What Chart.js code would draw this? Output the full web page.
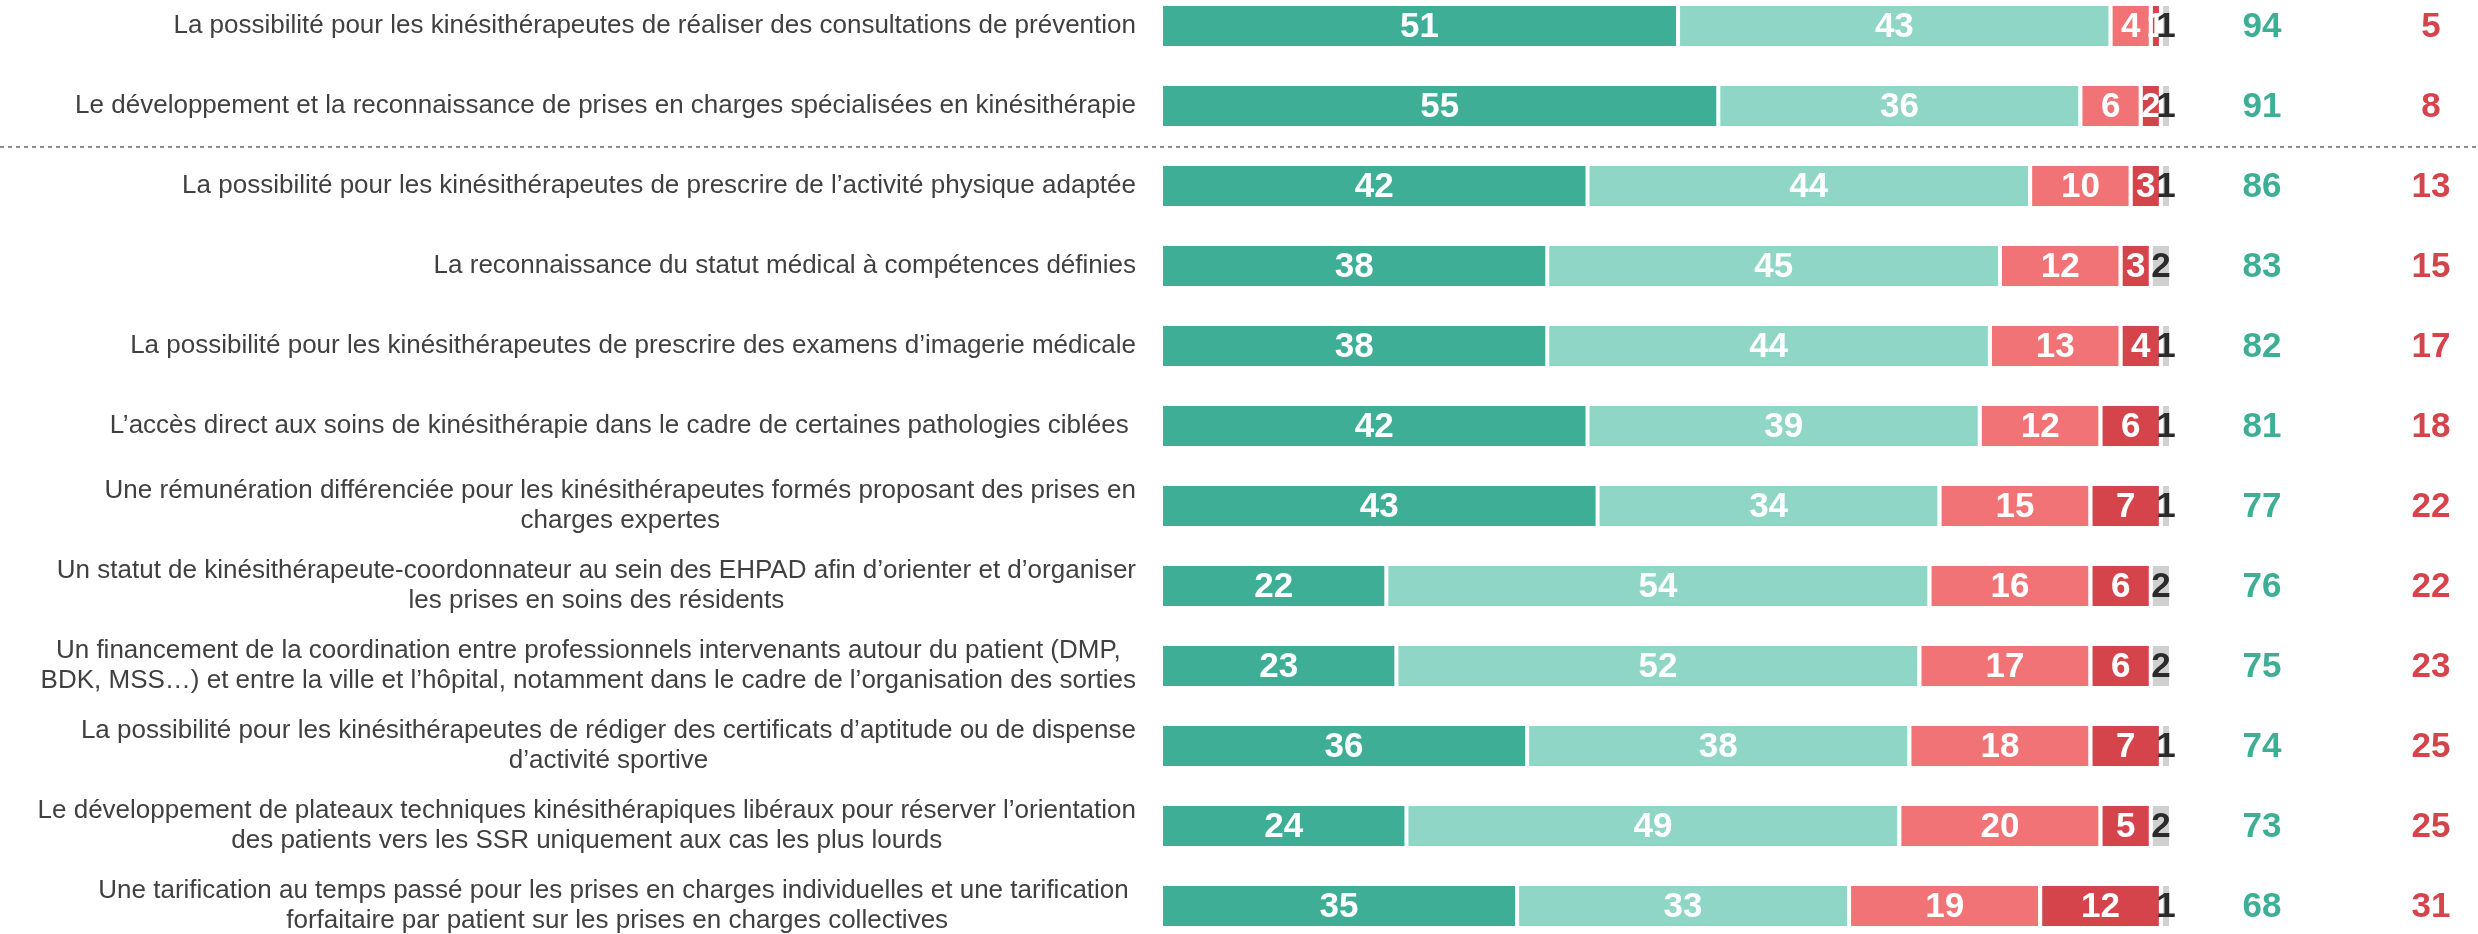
<!DOCTYPE html>
<html lang="fr">
<head>
<meta charset="utf-8">
<title>Mesures kinésithérapie</title>
<script src="https://cdn.jsdelivr.net/npm/chart.js@4/dist/chart.umd.min.js"></script>
<style>
    html, body { margin: 0; padding: 0; background: #ffffff; overflow: hidden; }
    #frame { position: relative; width: 2478px; height: 934px; overflow: hidden; }
    /* zone du graphique un peu plus haute que la page : 12 lignes de 80px, 1re ligne centrée à y=26 */
    #wrap { position: absolute; left: 0; top: -14px; width: 2478px; height: 960px; }
</style>
</head>
<body>
<div id="frame"><div id="wrap"><canvas id="mesuresChart"></canvas></div></div>
<script>
// Libellés des mesures (lignes multiples = tableau)
const categories = [
    'La possibilité pour les kinésithérapeutes de réaliser des consultations de prévention',
    'Le développement et la reconnaissance de prises en charges spécialisées en kinésithérapie',
    'La possibilité pour les kinésithérapeutes de prescrire de l’activité physique adaptée',
    'La reconnaissance du statut médical à compétences définies',
    'La possibilité pour les kinésithérapeutes de prescrire des examens d’imagerie médicale',
    'L’accès direct aux soins de kinésithérapie dans le cadre de certaines pathologies ciblées ',
    ['Une rémunération différenciée pour les kinésithérapeutes formés proposant des prises en', 'charges expertes'],
    ['Un statut de kinésithérapeute-coordonnateur au sein des EHPAD afin d’orienter et d’organiser', 'les prises en soins des résidents'],
    ['Un financement de la coordination entre professionnels intervenants autour du patient (DMP,', 'BDK, MSS…) et entre la ville et l’hôpital, notamment dans le cadre de l’organisation des sorties'],
    ['La possibilité pour les kinésithérapeutes de rédiger des certificats d’aptitude ou de dispense', 'd’activité sportive'],
    ['Le développement de plateaux techniques kinésithérapiques libéraux pour réserver l’orientation', 'des patients vers les SSR uniquement aux cas les plus lourds'],
    ['Une tarification au temps passé pour les prises en charges individuelles et une tarification ', 'forfaitaire par patient sur les prises en charges collectives']
];

const seriesNames = ['Très favorable', 'Plutôt favorable', 'Plutôt opposé', 'Très opposé', 'Ne se prononce pas'];

const tresFavorable    = [51, 55, 42, 38, 38, 42, 43, 22, 23, 36, 24, 35];
const plutotFavorable  = [43, 36, 44, 45, 44, 39, 34, 54, 52, 38, 49, 33];
const plutotOppose     = [4, 6, 10, 12, 13, 12, 15, 16, 17, 18, 20, 19];
const tresOppose       = [1, 2, 3, 3, 4, 6, 7, 6, 6, 7, 5, 12];
const nsp              = [1, 1, 1, 2, 1, 1, 1, 2, 2, 1, 2, 1];

const totalFavorable   = [94, 91, 86, 83, 82, 81, 77, 76, 75, 74, 73, 68];
const totalOppose      = [5, 8, 13, 15, 17, 18, 22, 22, 23, 25, 25, 31];

const colors = ['#3fae96', '#8fd6c7', '#f27376', '#d5444b', '#d0d0d0'];
const TEAL = '#3fae96';
const RED = '#d5444b';

const allSeries = [tresFavorable, plutotFavorable, plutotOppose, tresOppose, nsp];

const datasets = allSeries.map((values, k) => ({
    label: seriesNames[k],
    data: values,
    backgroundColor: colors[k],
    borderColor: '#ffffff',
    borderWidth: k === 0 ? 0 : { left: 4, top: 0, right: 0, bottom: 0 },
    borderSkipped: false,
    barPercentage: 0.5,
    categoryPercentage: 1
}));

// Libellés à gauche : bloc aligné à droite, lignes centrées entre elles
const leftLabels = {
    id: 'leftLabels',
    afterDraw(chart) {
        const ctx = chart.ctx;
        const yScale = chart.scales.y;
        const rightEdge = 1136;
        const lineH = 30;
        ctx.save();
        ctx.font = '26px "Liberation Sans", Arial, sans-serif';
        ctx.fillStyle = '#404040';
        ctx.textAlign = 'center';
        ctx.textBaseline = 'middle';
        categories.forEach((cat, i) => {
            const lines = Array.isArray(cat) ? cat : [cat];
            const w = Math.max(...lines.map(l => ctx.measureText(l).width));
            const cx = rightEdge - w / 2;
            const yc = yScale.getPixelForValue(i);
            lines.forEach((l, j) => {
                ctx.fillText(l, cx, yc + (j - (lines.length - 1) / 2) * lineH);
            });
        });
        ctx.restore();
    }
};

// Valeurs dans les segments + totaux à droite + séparateur pointillé
const valueLabels = {
    id: 'valueLabels',
    afterDatasetsDraw(chart) {
        const ctx = chart.ctx;
        const yScale = chart.scales.y;
        ctx.save();
        ctx.font = 'bold 35px "Liberation Sans", Arial, sans-serif';
        ctx.textAlign = 'center';
        ctx.textBaseline = 'middle';
        chart.data.datasets.forEach((ds, k) => {
            const meta = chart.getDatasetMeta(k);
            meta.data.forEach((bar, i) => {
                const c = bar.getCenterPoint();
                const left = Math.min(bar.x, bar.base);
                const right = Math.max(bar.x, bar.base);
                const mid = k === 0 ? c.x : (left + 4 + right) / 2;
                ctx.fillStyle = k === 4 ? '#2b2b2b' : '#ffffff';
                ctx.fillText(String(ds.data[i]), mid, c.y + 1);
            });
        });

        totalFavorable.forEach((v, i) => {
            const y = yScale.getPixelForValue(i) + 1;
            ctx.fillStyle = TEAL;
            ctx.fillText(String(v), 2262, y);
            ctx.fillStyle = RED;
            ctx.fillText(String(totalOppose[i]), 2431, y);
        });

        const ySep = Math.round((yScale.getPixelForValue(1) + yScale.getPixelForValue(2)) / 2) + 1;
        ctx.strokeStyle = '#8c8c8c';
        ctx.lineWidth = 2;
        ctx.setLineDash([4, 4]);
        ctx.beginPath();
        ctx.moveTo(0, ySep);
        ctx.lineTo(chart.width, ySep);
        ctx.stroke();
        ctx.restore();
    }
};

new Chart(document.getElementById('mesuresChart'), {
    type: 'bar',
    data: { labels: categories, datasets: datasets },
    options: {
        indexAxis: 'y',
        responsive: true,
        maintainAspectRatio: false,
        animation: false,
        layout: { padding: { left: 1163, right: 309, top: 0, bottom: 0 } },
        plugins: {
            legend: { display: false },
            tooltip: { enabled: false }
        },
        scales: {
            x: { stacked: true, min: 0, max: 100, display: false },
            y: { stacked: true, display: false }
        }
    },
    plugins: [leftLabels, valueLabels]
});
</script>
</body>
</html>
